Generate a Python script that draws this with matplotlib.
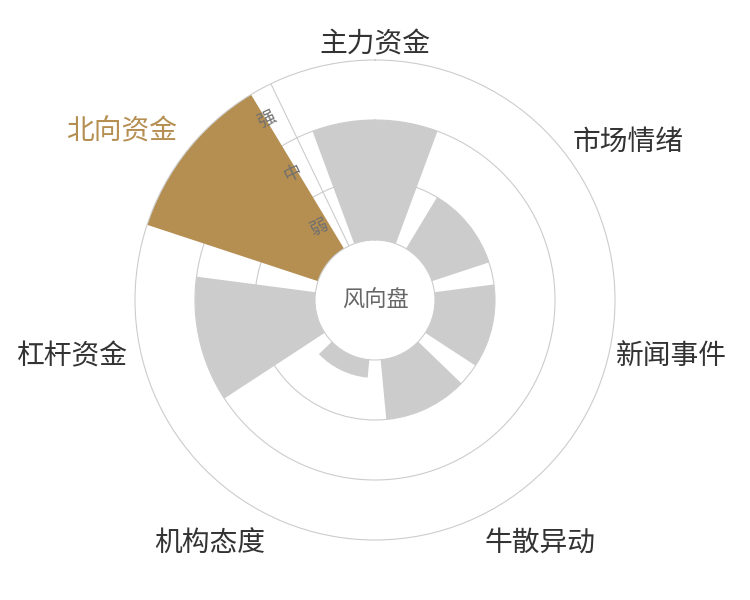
import numpy as np
import matplotlib.pyplot as plt

plt.rcParams['font.family'] = ['Noto Sans CJK SC', 'DejaVu Sans']

# 数据
categories = ['主力资金', '市场情绪', '新闻事件', '牛散异动', '机构态度', '杠杆资金', '北向资金']
values = [2, 1, 1, 1, 0.3, 2, 3]
highlight = '北向资金'
radius_labels = ['弱', '中', '强']
center_label = '风向盘'

gold = '#b58f52'
gray = '#cccccc'
line_c = '#cccccc'

fig = plt.figure(figsize=(7.5, 6), dpi=100)
ax = fig.add_axes([0.18, 0.1, 0.64, 0.8], projection='polar')
ax.set_theta_zero_location('N')
ax.set_theta_direction(-1)

n = len(categories)
step = 2 * np.pi / n
theta = np.arange(n) * step
colors = [gold if c == highlight else gray for c in categories]

ax.bar(theta, values, width=step * 0.79, bottom=0, color=colors,
       linewidth=0, zorder=2)

# 坐标轴范围，中间留空
ax.set_ylim(0, len(radius_labels))
ax.set_rorigin(-1)

# 网格
ax.set_axisbelow(True)
ax.set_xticks([])
ax.set_yticks(np.arange(1, len(radius_labels)))
ax.set_yticklabels([])
ax.tick_params(length=0)
ax.yaxis.grid(True, color=line_c, linewidth=0.8)
ax.xaxis.grid(False)
for s in ax.spines.values():
    s.set_color(line_c)
    s.set_linewidth(0.8)

# 径向轴线（北向资金和主力资金之间）
axis_th = (n - 0.5) * step
ax.plot([axis_th, axis_th], [0, len(radius_labels)], color=line_c,
        linewidth=0.8, zorder=1)

# 强/中/弱，放在轴线逆时针一侧
dx, dy = np.sin(axis_th), np.cos(axis_th)
px, py = -dy, dx
rot = np.degrees(np.arctan2(dy, dx)) - 90
for i, lab in enumerate(radius_labels):
    ax.annotate(lab, xy=(axis_th, i + 0.5), xytext=(px * 14, py * 14),
                textcoords='offset points', ha='center', va='center',
                rotation=rot, rotation_mode='anchor', fontsize=13,
                color='#707070', annotation_clip=False, zorder=5)

# 分类标签
for i, (c, t) in enumerate(zip(categories, theta)):
    sx, sy = np.sin(t), np.cos(t)
    ha = 'center' if abs(sx) < 0.3 else ('left' if sx > 0 else 'right')
    va = 'center' if abs(sy) < 0.8 else ('bottom' if sy > 0 else 'top')
    col = gold if c == highlight else '#333333'
    off_x = -4 if ha == 'left' and abs(sy) < 0.3 else 0
    off_y = -9 if va == 'bottom' else 0
    if c == highlight:
        off_y += 8
    ax.annotate(c, xy=(t, 3.22), xytext=(off_x, off_y), textcoords='offset points',
                ha=ha, va=va, fontsize=20, color=col, annotation_clip=False)

# 中心文字
ax.text(0.5, 0.5, center_label, transform=ax.transAxes, ha='center',
        va='center', fontsize=16, color='#666666')

fig.savefig('out.png', dpi=100)
